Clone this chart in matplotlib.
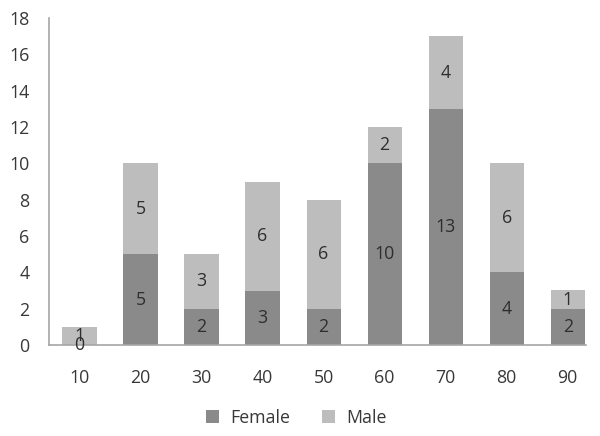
import matplotlib
matplotlib.use("Agg")
import matplotlib.pyplot as plt
import numpy as np

categories = ["10", "20", "30", "40", "50", "60", "70", "80", "90"]
female = [0, 5, 2, 3, 2, 10, 13, 4, 2]
male = [1, 5, 3, 6, 6, 2, 4, 6, 1]
yticks = [0, 2, 4, 6, 8, 10, 12, 14, 16, 18]

plt.rcParams['font.family'] = ['Open Sans', 'DejaVu Sans']
FS = 12.8
TXT = '#383838'
C_F = '#8a8a8a'
C_M = '#bdbdbd'

fig = plt.figure(figsize=(6, 4.36), dpi=100)
ax = fig.add_axes([49/600, 91/436, 537/600, 327/436])

x = np.arange(len(categories))
w = 0.56
bf = ax.bar(x, female, width=w, color=C_F, label='Female')
bm = ax.bar(x, male, width=w, bottom=female, color=C_M, label='Male')

for i in range(len(categories)):
    ax.text(x[i], female[i] / 2, str(female[i]), ha='center', va='center',
            fontsize=FS, color='#2e2e2e')
    ax.text(x[i], female[i] + male[i] / 2, str(male[i]), ha='center', va='center',
            fontsize=FS, color='#2e2e2e')

ax.set_xlim(-0.5, 8.3)
ax.set_ylim(0, 18)
ax.set_xticks(x)
ax.set_xticklabels(categories)
ax.set_yticks(yticks)
ax.tick_params(axis='both', length=0, labelsize=FS, labelcolor=TXT)
ax.tick_params(axis='y', pad=14)
ax.tick_params(axis='x', pad=17)
for s in ['top', 'right']:
    ax.spines[s].set_visible(False)
for s in ['left', 'bottom']:
    ax.spines[s].set_color('#a6a6a6')
    ax.spines[s].set_linewidth(1.2)

leg = fig.legend(handles=[bf, bm], loc='center', bbox_to_anchor=(296/600, 1 - 418/436),
                 ncol=2, frameon=False, fontsize=FS, handlelength=0.75, handleheight=0.75,
                 columnspacing=1.8, handletextpad=0.6, labelcolor=TXT)

fig.savefig('out.png', dpi=100)
